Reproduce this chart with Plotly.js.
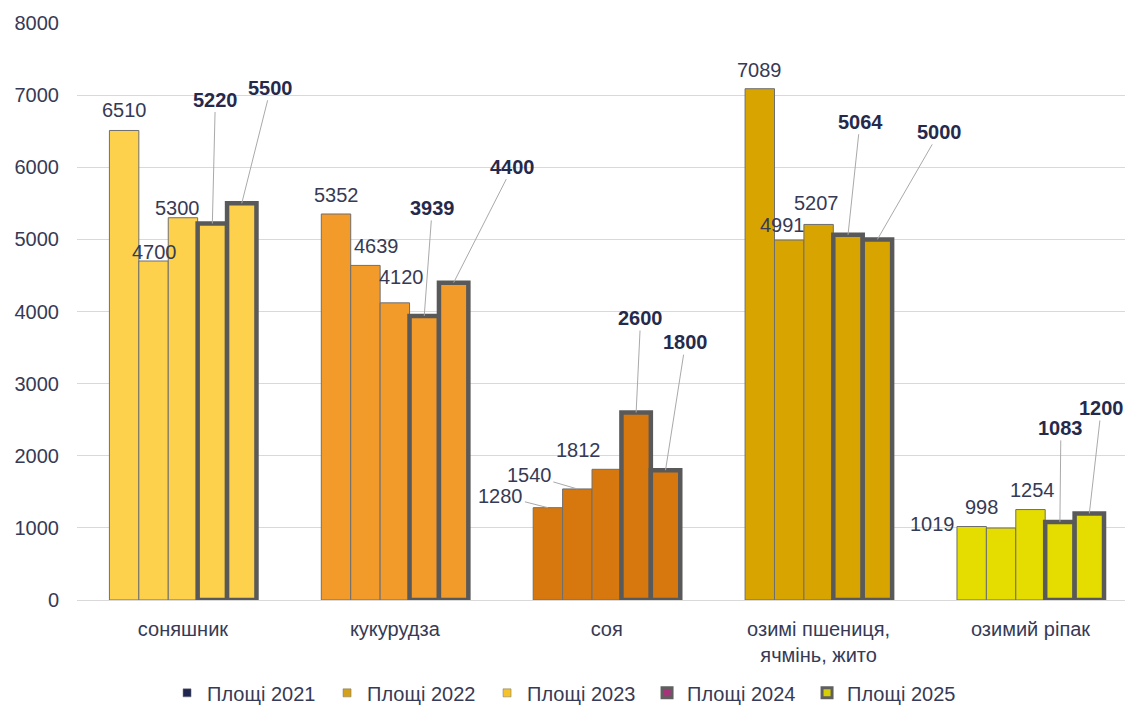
<!DOCTYPE html>
<html>
<head>
<meta charset="utf-8">
<script src="https://cdn.plot.ly/plotly-3.0.1.min.js"></script>
<style>
  html, body { margin: 0; padding: 0; background: #ffffff; overflow: hidden; }
  #chart { width: 1125px; height: 707px; }
</style>
</head>
<body>
<div id="chart"></div>
<script>
// Crop categories and planted areas by year
const categories = ['соняшник', 'кукурудза', 'соя', 'озимі пшениця,<br>ячмінь, жито', 'озимий ріпак'];
const years = ['Площі 2021', 'Площі 2022', 'Площі 2023', 'Площі 2024', 'Площі 2025'];

const area2021 = [6510, 5352, 1280, 7089, 1019];
const area2022 = [4700, 4639, 1540, 4991, 998];
const area2023 = [5300, 4120, 1812, 5207, 1254];
const area2024 = [5220, 3939, 2600, 5064, 1083];
const area2025 = [5500, 4400, 1800, 5000, 1200];

const yTicks = [0, 1000, 2000, 3000, 4000, 5000, 6000, 7000, 8000];

// ---- styling ----
const FONT = 'Liberation Sans, Arial, sans-serif';
const TEXT = '#363a55';
const BOLD_TEXT = '#252a4d';
const cropColors = ['#FDD14C', '#F39B2A', '#D7780F', '#D8A400', '#E5DC00'];
const legendSwatch = ['#1F2750', '#D4A21A', '#F5C22B', '#A8327A', '#D7CF05'];
const BARGAP = 0.306;

const series = [area2021, area2022, area2023, area2024, area2025];
const highlighted = [false, false, false, true, true];

// label placement per year (rows) and crop (cols): [dx, dy] in px from the bar top centre,
// third item true when a leader line connects label and bar
const labelPlacement = [
  [[0, -20], [0, -19], [-47, -12, true], [0, -19], [-39, -3]],
  [[1, -9], [11, -19.5], [-48, -14, true], [-7, -15], [-19.5, -21]],
  [[-5, -10], [7, -26], [-28, -19], [-2, -21.6], [2, -19.6]],
  [[3, -124, true], [8, -108, true], [4.5, -94.5, true], [12, -113, true], [1, -94, true]],
  [[29, -115.5, true], [59, -116, true], [20, -128, true], [62, -107.5, true], [12, -105.5, true]]
];

const traces = [];
series.forEach((vals, j) => {
  traces.push({
    type: 'bar',
    name: years[j],
    x: categories,
    y: vals,
    showlegend: false,
    hoverinfo: 'x+y+name',
    marker: {
      color: cropColors,
      line: highlighted[j] ? { color: '#595959', width: 4.5 } : { color: '#6e6e6e', width: 1 }
    }
  });
});

// legend entries
years.forEach((name, j) => {
  traces.push({
    type: 'scatter',
    mode: 'markers',
    name: name,
    x: [null],
    y: [null],
    hoverinfo: 'skip',
    marker: {
      symbol: 'square',
      size: highlighted[j] ? 10 : 8,
      color: legendSwatch[j],
      line: highlighted[j] ? { color: '#5f5f5f', width: 3 } : { color: '#6e6e6e', width: 0.5 }
    }
  });
});

// value labels
const barW = (1 - BARGAP) / years.length;
const annotations = [];
series.forEach((vals, j) => {
  vals.forEach((v, i) => {
    const p = labelPlacement[j][i];
    const lead = p[2] === true;
    const ann = {
      xref: 'x', yref: 'y',
      x: i + (j - (years.length - 1) / 2) * barW,
      y: v,
      text: highlighted[j] ? '<b>' + v + '</b>' : String(v),
      font: { family: FONT, size: 20, color: highlighted[j] ? BOLD_TEXT : TEXT },
      xanchor: 'center', yanchor: 'middle'
    };
    if (lead) {
      ann.showarrow = true;
      ann.arrowhead = 0;
      ann.arrowwidth = 1;
      ann.arrowcolor = '#a9a9a9';
      ann.standoff = 0;
      ann.startstandoff = 0;
      ann.ax = p[0];
      ann.ay = p[1];
    } else {
      ann.showarrow = false;
      ann.xshift = p[0];
      ann.yshift = -p[1];
    }
    annotations.push(ann);
  });
});

const layout = {
  width: 1125,
  height: 707,
  margin: { l: 77, r: 0, t: 23, b: 107 },
  paper_bgcolor: '#ffffff',
  plot_bgcolor: '#ffffff',
  font: { family: FONT, size: 20, color: TEXT },
  barmode: 'group',
  bargap: BARGAP,
  bargroupgap: 0,
  showlegend: true,
  legend: {
    orientation: 'h',
    xref: 'paper',
    x: 0.4676, xanchor: 'center',
    yref: 'container',
    y: 0.02, yanchor: 'middle',
    font: { family: FONT, size: 20, color: TEXT },
    itemwidth: 30,
    entrywidth: 115,
    entrywidthmode: 'pixels',
    traceorder: 'normal'
  },
  xaxis: {
    type: 'category',
    range: [-0.5, 4.446],
    showgrid: false,
    showline: false,
    ticks: '',
    ticklabelstandoff: 15,
    tickfont: { family: FONT, size: 20, color: TEXT },
    fixedrange: true
  },
  yaxis: {
    range: [0, 8000],
    tickvals: yTicks,
    ticktext: yTicks.map(String),
    showgrid: true,
    gridcolor: '#d9d9d9',
    gridwidth: 1,
    zeroline: true,
    zerolinecolor: '#d9d9d9',
    zerolinewidth: 1,
    showline: false,
    ticks: '',
    ticklabelstandoff: 17,
    tickfont: { family: FONT, size: 20, color: TEXT },
    fixedrange: true
  },
  annotations: annotations
};

Plotly.newPlot('chart', traces, layout, { displayModeBar: false, staticPlot: true });
</script>
</body>
</html>
